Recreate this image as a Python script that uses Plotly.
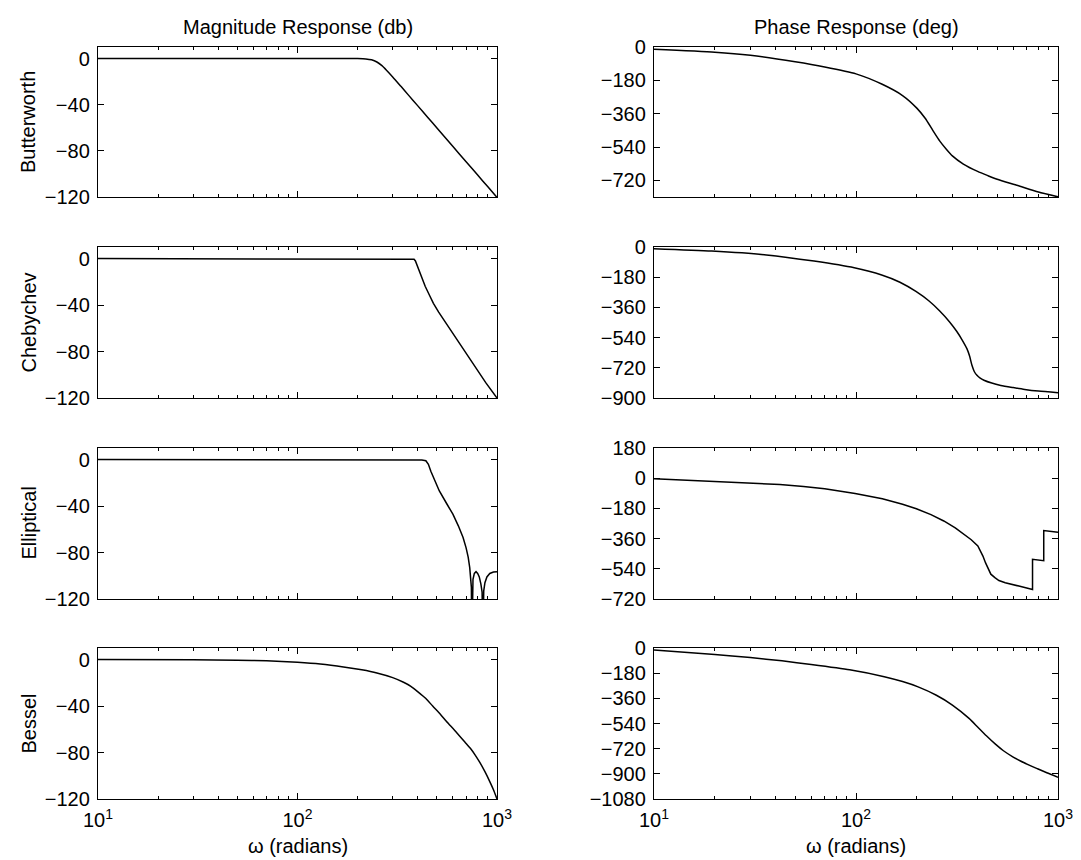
import plotly.graph_objects as go
from plotly.subplots import make_subplots

# ---------------- data ----------------
row_names = ["Butterworth", "Chebychev", "Elliptical", "Bessel"]
col_titles = ["Magnitude Response (db)", "Phase Response (deg)"]
x_label = "ω (radians)"
x_tick_vals = [10, 100, 1000]
x_tick_text = ["10<sup>1</sup>", "10<sup>2</sup>", "10<sup>3</sup>"]
x_minor_vals = [20, 30, 40, 50, 60, 70, 80, 90, 200, 300, 400, 500, 600, 700, 800, 900]

mag_ticks = [0, -40, -80, -120]
mag_range = [-120, 10]

# Butterworth
bw_mag_w = [10, 50, 100, 150, 180, 200, 220, 235, 250, 265, 280, 300, 330, 360, 400, 450, 500, 600, 700, 800, 900, 1000]
bw_mag_db = [0, 0, 0, 0, -0.01, -0.05, -0.3, -1.1, -3.0, -6.2, -10.3, -15.9, -24.1, -31.7, -40.8, -51.1, -60.2, -76.1, -89.4, -101.0, -111.2, -120.4]
bw_ph_w = [10, 20, 30, 50, 70, 100, 134, 170, 200, 220, 240, 260, 280, 300, 340, 400, 450, 500, 632, 800, 1000]
bw_ph_deg = [-12, -28, -45, -80, -108, -145, -200, -262, -330, -385, -450, -508, -552, -588, -632, -672, -695, -714, -748, -783, -809]
bw_ph_ticks = [0, -180, -360, -540, -720]
bw_ph_range = [-810, 0]

# Chebychev
ch_mag_w = [10, 100, 300, 370, 384, 390, 396, 402, 415, 437, 460, 480, 510, 545, 585, 628, 700, 780, 880, 1000]
ch_mag_db = [0, 0, 0, -0.2, -0.5, -2, -5, -9, -15, -24, -32, -38.5, -46, -53.5, -61.5, -69.5, -81.5, -93.5, -107, -120]
ch_ph_w = [10, 19.3, 36, 62, 98, 134, 165, 198, 230, 259, 290, 315, 335, 354, 365, 375, 385, 397, 412, 430, 470, 521, 600, 684, 800, 1000]
ch_ph_deg = [-10, -24, -47, -84, -124, -167, -210, -265, -322, -380, -445, -502, -553, -606, -650, -705, -742, -765, -782, -794, -811, -825, -838, -849, -859, -869]
ch_ph_ticks = [0, -180, -360, -540, -720, -900]
ch_ph_range = [-900, 0]

# Elliptical
el_mag_w = [10, 100, 300, 420, 440, 453, 466, 490, 514, 560, 601, 640, 676, 700, 717, 730, 738, 744, 748,
            752, 758, 770, 785, 800, 815, 830, 842, 850, 858, 870, 890, 920, 960, 1000]
el_mag_db = [0, 0, 0, -0.3, -1, -4, -10, -19, -27, -38, -47, -57, -67, -76, -84, -93, -101, -110, -160,
             -110, -103, -98, -96.5, -98, -101, -107, -114, -160, -113, -106, -101, -98, -96.8, -96.5]
el_ph_w = [10, 19.4, 30, 42, 55, 70, 99, 135, 170, 199, 235, 272, 310, 344, 372, 401, 413, 425, 438, 451, 465,
           487, 510, 548, 590, 640, 700, 748, 748, 800, 850, 850, 920, 1000]
el_ph_deg = [-4, -18, -28, -38, -50, -63, -91, -123, -155, -182, -217, -255, -296, -335, -367, -404, -430, -464,
             -505, -543, -572, -593, -610, -623, -634, -643, -654, -663, -483, -487, -492, -312, -317, -322]
el_ph_ticks = [180, 0, -180, -360, -540, -720]
el_ph_range = [-720, 180]

# Bessel
be_mag_w = [10, 30, 50, 70, 100, 130, 170, 210, 250, 300, 340, 370, 400, 440, 476, 520, 560, 614, 690, 740, 776, 820, 870, 920, 960, 1000]
be_mag_db = [0, -0.1, -0.5, -1.0, -2.3, -3.8, -6.3, -8.8, -11.5, -15.5, -19.5, -23, -27.5, -33.5, -40, -47, -53.5, -61, -71, -77, -82, -88.5, -96.5, -105, -112, -120]
be_ph_w = [10, 20, 30, 43, 60, 93, 138, 170, 203, 250, 300, 364, 400, 442, 490, 537, 600, 652, 720, 792, 880, 1000]
be_ph_deg = [-15, -46, -68, -92, -118, -156, -205, -240, -278, -338, -408, -505, -565, -628, -688, -735, -780, -808, -838, -864, -892, -924]
be_ph_ticks = [0, -180, -360, -540, -720, -900, -1080]
be_ph_range = [-1080, 0]

# ---------------- figure ----------------
W, H = 1081, 860
FONT = "Liberation Sans, Arial, Helvetica, sans-serif"
FS = 20

col_px = [(90, 489), (646, 1050)]
row_px = [(39, 189), (239, 390), (440, 591), (640, 791)]

fig = make_subplots(rows=4, cols=2)

series = [
    [(bw_mag_w, bw_mag_db, "spline", mag_range, mag_ticks), (bw_ph_w, bw_ph_deg, "spline", bw_ph_range, bw_ph_ticks)],
    [(ch_mag_w, ch_mag_db, "linear", mag_range, mag_ticks), (ch_ph_w, ch_ph_deg, "spline", ch_ph_range, ch_ph_ticks)],
    [(el_mag_w, el_mag_db, "linear", mag_range, mag_ticks), (el_ph_w, el_ph_deg, "linear", el_ph_range, el_ph_ticks)],
    [(be_mag_w, be_mag_db, "spline", mag_range, mag_ticks), (be_ph_w, be_ph_deg, "spline", be_ph_range, be_ph_ticks)],
]

for r in range(4):
    for c in range(2):
        xw, yv, shape, yrange, yticks = series[r][c]
        line = dict(color="black", width=1.5, shape=shape)
        if shape == "spline":
            line["smoothing"] = 0.6
        fig.add_trace(go.Scatter(x=xw, y=yv, mode="lines", line=line, showlegend=False,
                                 hoverinfo="skip"), row=r + 1, col=c + 1)
        idx = r * 2 + c + 1
        xa = "xaxis" if idx == 1 else f"xaxis{idx}"
        ya = "yaxis" if idx == 1 else f"yaxis{idx}"
        x0, x1 = col_px[c]
        y0, y1 = row_px[r]
        fig.layout[xa].update(
            domain=[x0 / W, x1 / W], type="log", range=[1, 3], automargin=False,
            tickmode="array", tickvals=x_tick_vals, ticktext=x_tick_text,
            showticklabels=(r == 3), ticks="inside", ticklen=6, tickwidth=1, tickcolor="black",
            showline=True, linecolor="black", linewidth=1.4, mirror="ticks",
            showgrid=False, zeroline=False, ticklabelstandoff=3,
            tickfont=dict(family=FONT, size=FS, color="black"),
            minor=dict(tickmode="array", tickvals=x_minor_vals, ticks="inside", ticklen=3,
                       tickwidth=1, tickcolor="black", showgrid=False),
        )
        fig.layout[ya].update(
            domain=[1 - y1 / H, 1 - y0 / H], range=yrange, automargin=False,
            tickmode="array", tickvals=yticks,
            ticks="inside", ticklen=6, tickwidth=1, tickcolor="black",
            showline=True, linecolor="black", linewidth=1.4, mirror="ticks",
            showgrid=False, zeroline=False, ticklabelstandoff=3,
            tickfont=dict(family=FONT, size=FS, color="black"),
        )

annotations = []
for c in range(2):
    x0, x1 = col_px[c]
    cx = (x0 + x1) / 2 / W
    annotations.append(dict(text=col_titles[c], x=cx, y=1 - 19 / H, xref="paper", yref="paper",
                            xanchor="center", yanchor="middle", showarrow=False,
                            font=dict(family=FONT, size=FS, color="black")))
    annotations.append(dict(text=x_label, x=cx, y=1 - 838 / H, xref="paper", yref="paper",
                            xanchor="center", yanchor="middle", showarrow=False,
                            font=dict(family=FONT, size=FS, color="black")))
for r in range(4):
    y0, y1 = row_px[r]
    annotations.append(dict(text=row_names[r], x=20 / W, y=1 - (y0 + y1) / 2 / H, xref="paper", yref="paper",
                            xanchor="center", yanchor="middle", textangle=-90, showarrow=False,
                            font=dict(family=FONT, size=FS, color="black")))

fig.update_layout(
    width=W, height=H, margin=dict(l=0, r=0, t=0, b=0, autoexpand=False),
    paper_bgcolor="white", plot_bgcolor="white",
    annotations=annotations, showlegend=False,
)

fig.write_html("out.html")
